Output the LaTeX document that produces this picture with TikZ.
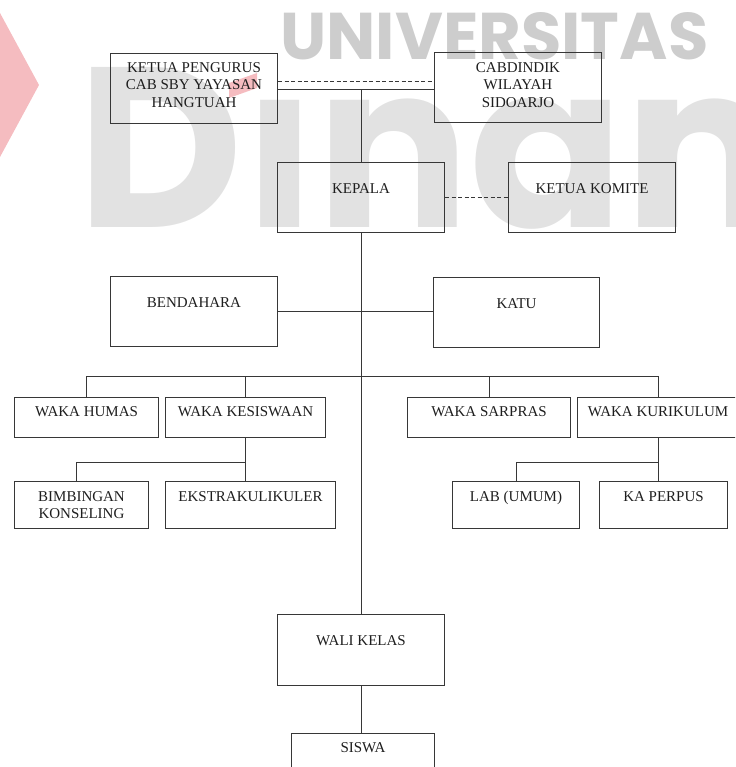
\documentclass[tikz,border=0pt]{standalone}
\usepackage{fontspec}
\setmainfont{Liberation Serif}
\newfontfamily\wmfont{Poppins}
\usetikzlibrary{calc}

\definecolor{linecol}{RGB}{55,55,55}
\definecolor{txtcol}{RGB}{30,30,30}
\definecolor{wmgray}{RGB}{205,205,205}
\definecolor{wmlight}{RGB}{226,226,226}
\definecolor{wmpink}{RGB}{245,188,192}

\tikzset{
  orgbox/.style={draw=linecol, line width=1pt, inner sep=0pt, anchor=north west},
  caption/.style={font=\fontsize{15}{17.5}\selectfont, text=txtcol, align=center,
    inner sep=0pt, anchor=north},
  link/.style={draw=linecol, line width=1pt},
  dottedlink/.style={link, dash pattern=on 4pt off 2.5pt},
}

% box from its top-left (x1,y1) to bottom-right (x2,y2), y measured downward
\newcommand\unitbox[5]{%
  \node[orgbox, minimum width={(#4-#2)*1pt}, minimum height={(#5-#3)*1pt}] (#1) at (#2,#3) {};}

\begin{document}
\begin{tikzpicture}[x=1pt, y=-1pt]
\useasboundingbox (0,0) rectangle (735,767);
\clip (0,0) rectangle (735,767);

% --- background logo lettering ---
\fill[wmpink] (0,13) -- (39,85) -- (0,157) -- cycle;
\node[anchor=base west, inner sep=0pt, text=wmgray] (wm-univ) at (280,60)
  {\resizebox{428pt}{47pt}{\wmfont\bfseries UNIVERSITAS}};
\node[anchor=base west, inner sep=0pt, text=wmlight] (wm-name) at (77,227)
  {\resizebox{!}{160pt}{\wmfont\bfseries D\smash{ınamika}}};
\fill[wmpink] (229,83) -- (257,73) -- (257,88) -- (229,98) -- cycle;

% --- boxes ---
\unitbox{kp}{110}{53}{277}{123}
\unitbox{cab}{434}{52}{601}{122}
\unitbox{kep}{277}{162}{444}{232}
\unitbox{kom}{508}{162}{675}{232}
\unitbox{ben}{110}{276}{277}{346}
\unitbox{katu}{433}{277}{599}{347}
\unitbox{humas}{14}{397}{158}{437}
\unitbox{kesis}{165}{397}{325}{437}
\unitbox{sarpras}{407}{397}{570}{437}
\unitbox{kurik}{577}{397}{738}{437}
\unitbox{bk}{14}{481}{148}{528}
\unitbox{eks}{165}{481}{335}{528}
\unitbox{lab}{452}{481}{579}{528}
\unitbox{perp}{599}{481}{727}{528}
\unitbox{wali}{277}{614}{444}{685}
\unitbox{siswa}{291}{733}{434}{780}

% --- captions ---
\node[caption] (kp-t) at ([yshift=-9pt]kp.north) {KETUA PENGURUS\\CAB SBY YAYASAN\\HANGTUAH};
\node[caption] (cab-t) at ([yshift=-10pt]cab.north) {CABDINDIK\\WILAYAH\\SIDOARJO};
\node[caption] (kep-t) at ([yshift=-21pt]kep.north) {KEPALA};
\node[caption] (kom-t) at ([yshift=-21pt]kom.north) {KETUA KOMITE};
\node[caption] (ben-t) at ([yshift=-21pt]ben.north) {BENDAHARA};
\node[caption] (katu-t) at ([yshift=-21pt]katu.north) {KATU};
\node[caption] (humas-t) at ([yshift=-9pt]humas.north) {WAKA HUMAS};
\node[caption] (kesis-t) at ([yshift=-9pt]kesis.north) {WAKA KESISWAAN};
\node[caption] (sarpras-t) at ([yshift=-9pt]sarpras.north) {WAKA SARPRAS};
\node[caption] (kurik-t) at ([yshift=-9pt]kurik.north) {WAKA KURIKULUM};
\node[caption] (bk-t) at ([yshift=-10pt]bk.north) {BIMBINGAN\\KONSELING};
\node[caption] (eks-t) at ([yshift=-10pt]eks.north) {EKSTRAKULIKULER};
\node[caption] (lab-t) at ([yshift=-10pt]lab.north) {LAB (UMUM)};
\node[caption] (perp-t) at ([yshift=-10pt]perp.north) {KA PERPUS};
\node[caption] (wali-t) at ([yshift=-21pt]wali.north) {WALI KELAS};
\node[caption] (siswa-t) at ([yshift=-9pt]siswa.north) {SISWA};

% --- connectors ---
\coordinate (busy) at (0,376);
\coordinate (suby) at (0,462);

\draw[dottedlink] ([yshift=7pt]kp.east) -- ([yshift=7pt]kp.east -| cab.west);
\draw[link] ([yshift=-1pt]kp.east) -- ([yshift=-1pt]kp.east -| cab.west);
\draw[link] ([yshift=-1pt]kp.east -| kep.north) -- (kep.north);
\draw[dottedlink] (kep.east) -- (kom.west);
\draw[link] (kep.south) -- (wali.north);
\draw[link] (ben.east) -- (ben.east -| katu.west);

\draw[link] (humas.north) |- (busy -| kurik.north) -- (kurik.north);
\draw[link] (kesis.north) -- (kesis.north |- busy);
\draw[link] (sarpras.north) -- (sarpras.north |- busy);

\draw[link] (kesis.south) -- (kesis.south |- eks.north);
\draw[link] ([xshift=-5pt]bk.north) |- (kesis.south |- suby);
\draw[link] (kurik.south) -- (kurik.south |- perp.north);
\draw[link] (lab.north) |- (kurik.south |- suby);

\draw[link] (wali.south) -- (wali.south |- siswa.north);
\end{tikzpicture}
\end{document}
